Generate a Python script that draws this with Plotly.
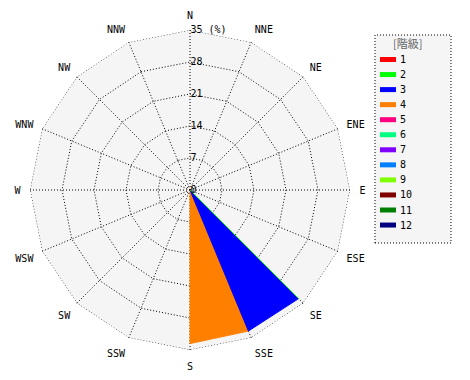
import plotly.graph_objects as go

# ---- data ----
directions = ["N", "NNE", "NE", "ENE", "E", "ESE", "SE", "SSE",
              "S", "SSW", "SW", "WSW", "W", "WNW", "NW", "NNW"]
class_labels = ["1", "2", "3", "4", "5", "6", "7", "8", "9", "10", "11", "12"]
class_colors = ["#ff0000", "#00ff00", "#0000ff", "#ff8000", "#ff0080", "#00ff80",
                "#8000ff", "#0080ff", "#80ff00", "#800000", "#008000", "#000080"]
# frequency (%) per direction for each class (order follows `directions`)
class_values = {
    "1":  [0, 0, 0, 0, 0, 0, 0, 0, 0, 0, 0, 0, 0, 0, 0, 0],
    "2":  [0, 0, 0, 0, 0, 0, 33.6, 0, 0, 0, 0, 0, 0, 0, 0, 0],
    "3":  [0, 0, 0, 0, 0, 0, 33.6, 33.4, 0, 0, 0, 0, 0, 0, 0, 0],
    "4":  [0, 0, 0, 0, 0, 0, 0, 33.4, 33.6, 0, 0, 0, 0, 0, 0, 0],
    "5":  [0, 0, 0, 0, 0, 0, 0, 0, 0, 0, 0, 0, 0, 0, 0, 0],
    "6":  [0, 0, 0, 0, 0, 0, 0, 0, 0, 0, 0, 0, 0, 0, 0, 0],
    "7":  [0, 0, 0, 0, 0, 0, 0, 0, 0, 0, 0, 0, 0, 0, 0, 0],
    "8":  [0, 0, 0, 0, 0, 0, 0, 0, 0, 0, 0, 0, 0, 0, 0, 0],
    "9":  [0, 0, 0, 0, 0, 0, 0, 0, 0, 0, 0, 0, 0, 0, 0, 0],
    "10": [0, 0, 0, 0, 0, 0, 0, 0, 0, 0, 0, 0, 0, 0, 0, 0],
    "11": [0, 0, 0, 0, 0, 0, 0, 0, 0, 0, 0, 0, 0, 0, 0, 0],
    "12": [0, 0, 0, 0, 0, 0, 0, 0, 0, 0, 0, 0, 0, 0, 0, 0],
}
radial_max = 35
radial_ticks = [0, 7, 14, 21, 28, 35]
radial_ticktext = ["0", "7", "14", "21", "28", "35 (%)"]
legend_title = "[階級]"

W, H = 470, 380
FONT = "DejaVu Sans Mono"
DOT = "1px,2px"

fig = go.Figure()

# outer dotted ring of the grid (at the axis maximum)
fig.add_trace(go.Scatterpolar(
    r=[radial_max] * (len(directions) + 1),
    theta=directions + directions[:1],
    mode="lines",
    line=dict(color="black", width=1, dash=DOT),
    showlegend=False,
    hoverinfo="skip",
))

# draw higher classes first so lower classes sit on top
for lab, col in reversed(list(zip(class_labels, class_colors))):
    vals = class_values[lab]
    if not any(vals):
        continue
    fig.add_trace(go.Scatterpolar(
        r=vals + vals[:1],
        theta=directions + directions[:1],
        mode="lines",
        fill="toself",
        fillcolor=col,
        line=dict(color=col, width=1),
        showlegend=False,
        hoverinfo="skip",
    ))

fig.update_layout(
    width=W, height=H, autosize=False,
    margin=dict(l=0, r=0, t=0, b=0),
    paper_bgcolor="white",
    showlegend=False,
    polar=dict(
        domain=dict(x=[30 / W, 350 / W], y=[1 - 350 / H, 1 - 30 / H]),
        bgcolor="#f5f5f5",
        gridshape="linear",
        angularaxis=dict(
            type="category",
            categoryarray=directions,
            rotation=90,
            direction="clockwise",
            showline=False,
            ticks="outside",
            ticklen=7,
            tickcolor="rgba(0,0,0,0)",
            showgrid=True,
            gridcolor="black",
            griddash=DOT,
            gridwidth=1,
            tickfont=dict(family=FONT, size=10, color="black"),
        ),
        radialaxis=dict(
            range=[0, radial_max],
            angle=90,
            tickangle=90,
            side="clockwise",
            tickvals=radial_ticks,
            ticktext=radial_ticktext,
            showline=False,
            ticks="",
            showgrid=True,
            gridcolor="black",
            griddash=DOT,
            gridwidth=1,
            tickfont=dict(family=FONT, size=10, color="black"),
        ),
    ),
)

# ---- legend box (manual, to mimic the reference) ----
bx0, bx1, by0, by1 = 375, 451, 35, 243
fig.add_shape(type="rect", xref="paper", yref="paper",
              x0=bx0 / W, x1=bx1 / W, y0=1 - by1 / H, y1=1 - by0 / H,
              line=dict(color="black", width=1, dash=DOT),
              fillcolor="#f5f5f5", layer="below")
fig.add_annotation(x=407 / W, y=1 - 43 / H, xref="paper", yref="paper",
                   text=legend_title, showarrow=False,
                   font=dict(family="Noto Sans CJK JP", size=11, color="#666666"),
                   xanchor="center", yanchor="middle")
for i, (lab, col) in enumerate(zip(class_labels, class_colors)):
    yc = 59.5 + 15.05 * i
    fig.add_shape(type="rect", xref="paper", yref="paper",
                  x0=380 / W, x1=396 / W, y0=1 - (yc + 2.5) / H, y1=1 - (yc - 2.5) / H,
                  line=dict(width=0), fillcolor=col)
    fig.add_annotation(x=398 / W, y=1 - yc / H, xref="paper", yref="paper",
                       text=lab, showarrow=False,
                       font=dict(family=FONT, size=10, color="black"),
                       xanchor="left", yanchor="middle")

fig.write_html("out.html")
